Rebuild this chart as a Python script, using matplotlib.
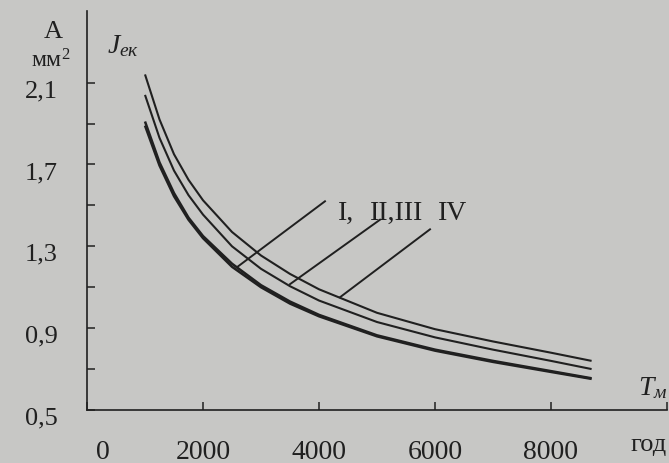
import matplotlib
matplotlib.use("Agg")
import matplotlib.pyplot as plt
from matplotlib.ticker import FixedLocator
from matplotlib.transforms import ScaledTranslation

# Tм, год
t_hours = [1000, 1250, 1500, 1750, 2000, 2500, 3000, 3500, 4000, 5000, 6000, 7000, 8000, 8700]
# Jек, А/мм2
j_iv = [2.14, 1.92, 1.75, 1.625, 1.525, 1.37, 1.255, 1.165, 1.09, 0.975, 0.895, 0.835, 0.78, 0.74]
j_ii_iii = [2.04, 1.83, 1.67, 1.55, 1.455, 1.30, 1.19, 1.105, 1.035, 0.93, 0.855, 0.795, 0.74, 0.70]
j_i_a = [1.91, 1.71, 1.56, 1.44, 1.35, 1.215, 1.11, 1.03, 0.965, 0.865, 0.795, 0.74, 0.69, 0.655]
j_i_b = [1.89, 1.695, 1.545, 1.43, 1.34, 1.20, 1.10, 1.02, 0.958, 0.86, 0.79, 0.735, 0.686, 0.652]

x_ticks = [0, 2000, 4000, 6000, 8000, 10000]
x_labels = ["0", "2000", "4000", "6000", "8000", ""]
y_ticks = [0.5, 0.9, 1.3, 1.7, 2.1]
y_labels = ["0,5", "0,9", "1,3", "1,7", "2,1"]
y_minor = [0.7, 1.1, 1.5, 1.9]

# leader lines: (x label end, y label end, x curve end, y curve end)
leaders = [(4103, 1.52, 2586, 1.198),
           (5052, 1.43, 3500, 1.115),
           (5914, 1.383, 4362, 1.051)]

ink = "#202020"
paper = "#c7c7c5"

plt.rcParams["font.family"] = ["Liberation Serif", "DejaVu Serif"]
plt.rcParams["mathtext.fontset"] = "custom"
plt.rcParams["mathtext.it"] = "Liberation Serif:italic"
plt.rcParams["mathtext.rm"] = "Liberation Serif"

fig = plt.figure(figsize=(6.69, 4.64), dpi=100, facecolor=paper)
ax = fig.add_axes([87 / 669, 53 / 464, 580 / 669, 399 / 464])
ax.set_facecolor(paper)

ax.plot(t_hours, j_iv, color=ink, lw=1.5, solid_capstyle="butt")
ax.plot(t_hours, j_ii_iii, color=ink, lw=1.5, solid_capstyle="butt")
ax.plot(t_hours, j_i_a, color=ink, lw=1.8, solid_capstyle="butt")
ax.plot(t_hours, j_i_b, color=ink, lw=1.8, solid_capstyle="butt")

for x0, y0, x1, y1 in leaders:
    ax.plot([x0, x1], [y0, y1], color=ink, lw=1.4)

ax.set_xlim(0, 10000)
ax.set_ylim(0.5, 2.45)
for s in ["top", "right"]:
    ax.spines[s].set_visible(False)
for s in ["left", "bottom"]:
    ax.spines[s].set_color(ink)
    ax.spines[s].set_linewidth(1.2)

ax.set_xticks(x_ticks)
ax.set_xticklabels(x_labels)
ax.set_yticks(y_ticks)
ax.set_yticklabels(y_labels)
ax.yaxis.set_minor_locator(FixedLocator(y_minor))
ax.tick_params(axis="x", direction="in", length=6, width=1.1, color=ink,
               labelsize=20, labelcolor=ink, pad=21)
ax.tick_params(axis="y", which="both", direction="in", length=6, width=1.1, color=ink,
               labelsize=19, labelcolor=ink, pad=21)
for lab in ax.get_yticklabels():
    lab.set_transform(lab.get_transform() + ScaledTranslation(0, -0.05, fig.dpi_scale_trans))
# the zero sits a little right of the axis corner
zero = ax.get_xticklabels()[0]
zero.set_transform(zero.get_transform() + ScaledTranslation(0.16, 0, fig.dpi_scale_trans))

fig.text(667 / 669, 13 / 464, "год", fontsize=19, color=ink, ha="right", va="baseline")
fig.text(53 / 669, 1 - 38 / 464, "A", fontsize=19, color=ink, ha="center", va="baseline")
fig.text(51 / 669, 1 - 67 / 464, "мм$^2$", fontsize=17, color=ink, ha="center", va="baseline")

ax.text(345, 2.25, "$J_{ек}$", fontsize=20, color=ink, ha="left", va="baseline")
ax.text(9500, 0.58, "$T_м$", fontsize=20, color=ink, ha="left", va="baseline")
ax.text(4328, 1.432, "I,", fontsize=20, color=ink, ha="left", va="baseline")
ax.text(4879, 1.432, "II,III", fontsize=20, color=ink, ha="left", va="baseline")
ax.text(6052, 1.432, "IV", fontsize=20, color=ink, ha="left", va="baseline")

fig.savefig("out.png", dpi=100, facecolor=paper)
